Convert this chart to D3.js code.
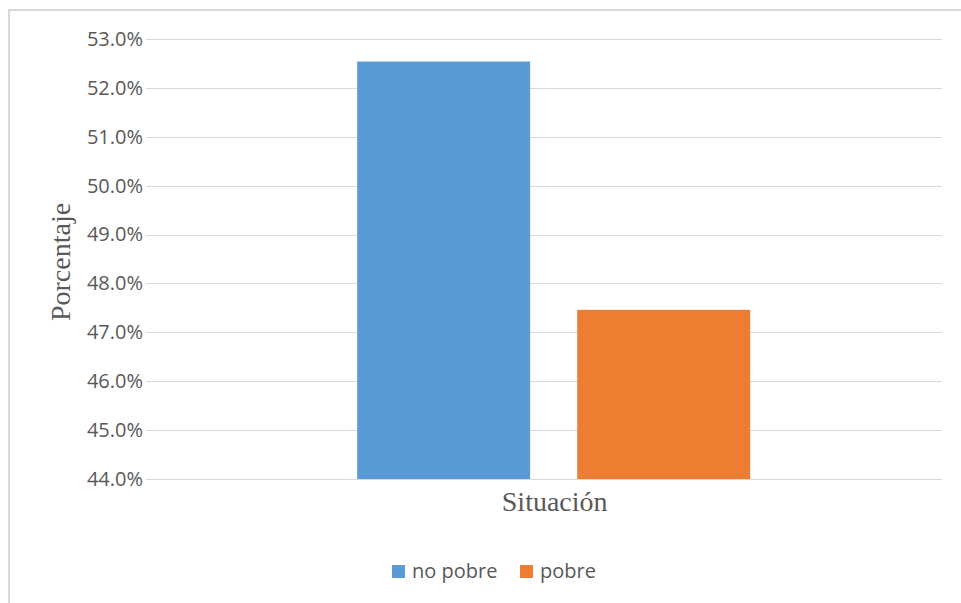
<!DOCTYPE html>
<html>
<head>
<meta charset="utf-8">
<script src="https://cdn.jsdelivr.net/npm/d3@7"></script>
<style>
html, body { margin: 0; padding: 0; background: #fff; }
svg { display: block; }
</style>
</head>
<body>
<svg id="chart" width="961" height="603"></svg>
<script>
const categories = ["Situación"];
const seriesNames = ["no pobre", "pobre"];
const seriesValues = [0.5254, 0.4746];
const seriesColors = ["#5B9BD5", "#ED7D31"];
const yTicks = [0.44, 0.45, 0.46, 0.47, 0.48, 0.49, 0.50, 0.51, 0.52, 0.53];

const svg = d3.select("#chart");
const W = 961, H = 603;
const plot = { left: 146, right: 942, top: 39, bottom: 479 };

// chart border (left & top visible)
svg.append("rect")
  .attr("x", 9).attr("y", 10)
  .attr("width", W + 20).attr("height", H + 20)
  .attr("fill", "#fff")
  .attr("stroke", "#d9d9d9").attr("stroke-width", 2);

const y = d3.scaleLinear().domain([0.44, 0.53]).range([plot.bottom, plot.top]);
const x0 = d3.scaleBand().domain(categories).range([plot.left, plot.right])
  .paddingInner(0).paddingOuter(0.5127).align(0.524);
const x1 = d3.scaleBand().domain(seriesNames).range([0, x0.bandwidth()])
  .paddingInner(0.214).paddingOuter(0);

// gridlines
svg.append("g").selectAll("line").data(yTicks).join("line")
  .attr("x1", plot.left).attr("x2", plot.right)
  .attr("y1", d => Math.round(y(d)) + 0.5).attr("y2", d => Math.round(y(d)) + 0.5)
  .attr("stroke", "#d9d9d9").attr("stroke-width", 1);

// y axis labels
const yAxis = d3.axisLeft(y).tickValues(yTicks).tickFormat(d3.format(".1%")).tickSize(0).tickPadding(3);
const gy = svg.append("g").attr("transform", `translate(${plot.left},0)`).call(yAxis);
gy.select(".domain").remove();
gy.selectAll("text")
  .attr("font-family", "'Open Sans', sans-serif")
  .attr("font-size", 20)
  .attr("fill", "#595959");

// bars
const g = svg.append("g");
categories.forEach((c, ci) => {
  g.selectAll(null).data(seriesNames.map((s, i) => ({ s, v: seriesValues[i], color: seriesColors[i] })))
    .join("rect")
    .attr("x", d => x0(c) + x1(d.s))
    .attr("width", x1.bandwidth())
    .attr("y", d => y(d.v))
    .attr("height", d => y(0.44) - y(d.v))
    .attr("fill", d => d.color);
});

// category label
svg.append("text")
  .attr("x", x0(categories[0]) + x0.bandwidth() / 2 + 1)
  .attr("y", 511)
  .attr("text-anchor", "middle")
  .attr("font-family", "'Liberation Serif', 'Times New Roman', serif")
  .attr("font-size", 28)
  .attr("fill", "#595959")
  .text(categories[0]);

// y title
svg.append("text")
  .attr("transform", "translate(70,262) rotate(-90)")
  .attr("text-anchor", "middle")
  .attr("font-family", "'Liberation Serif', 'Times New Roman', serif")
  .attr("font-size", 28)
  .attr("fill", "#595959")
  .text("Porcentaje");

// legend
const legendX = [392, 520];
const leg = svg.append("g");
seriesNames.forEach((s, i) => {
  leg.append("rect")
    .attr("x", legendX[i]).attr("y", 565)
    .attr("width", 13).attr("height", 13)
    .attr("fill", seriesColors[i]);
  leg.append("text")
    .attr("x", legendX[i] + 20).attr("y", 578)
    .attr("font-family", "'Open Sans', sans-serif")
    .attr("font-size", 20)
    .attr("fill", "#595959")
    .text(s);
});
</script>
</body>
</html>
